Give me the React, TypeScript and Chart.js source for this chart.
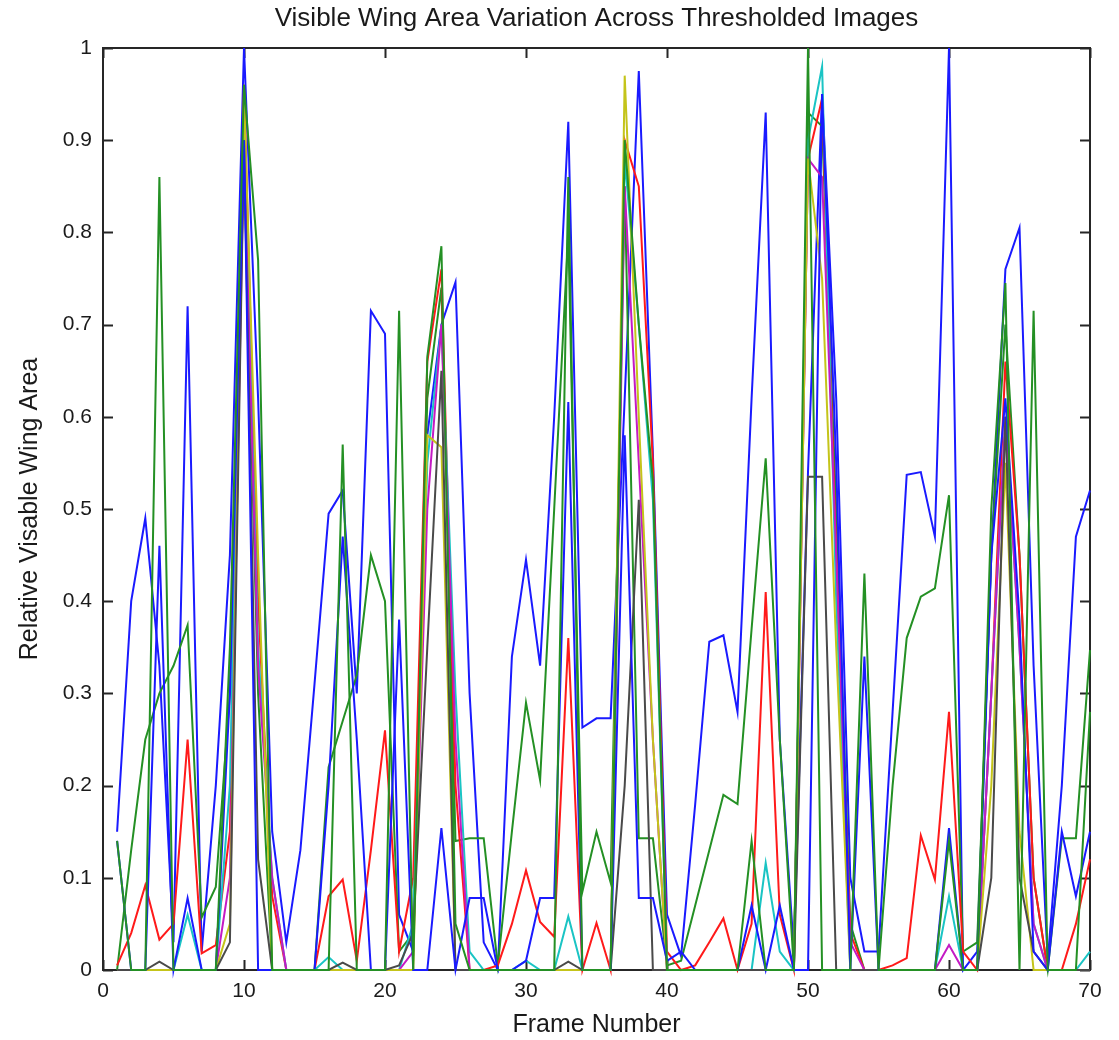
import React, { useEffect, useRef } from "react";
import { Chart, registerables } from "chart.js";

Chart.register(...registerables);

const titleText = "Visible Wing Area Variation Across Thresholded Images";
const xTitle = "Frame Number";
const yTitle = "Relative Visable Wing Area";

const frames = [
  1, 2, 3, 4, 5, 6, 7, 8, 9, 10, 11, 12, 13, 14, 15, 16, 17, 18, 19, 20,
  21, 22, 23, 24, 25, 26, 27, 28, 29, 30, 31, 32, 33, 34, 35, 36, 37, 38, 39, 40,
  41, 42, 43, 44, 45, 46, 47, 48, 49, 50, 51, 52, 53, 54, 55, 56, 57, 58, 59, 60,
  61, 62, 63, 64, 65, 66, 67, 68, 69, 70,
];

const xTickLabels = ["0", "10", "20", "30", "40", "50", "60", "70"];
const yTickLabels = ["0", "0.1", "0.2", "0.3", "0.4", "0.5", "0.6", "0.7", "0.8", "0.9", "1"];

const blueA = [
  0.15, 0.40, 0.49, 0.33, 0.03, 0.72, 0.02, 0.20, 0.45, 1.00,
  0.62, 0.15, 0.03, 0.13, 0.31, 0.495, 0.52, 0.30, 0.715, 0.69,
  0.06, 0.02, 0.58, 0.70, 0.746, 0.30, 0.03, 0.00, 0.34, 0.445,
  0.33, 0.60, 0.92, 0.263, 0.273, 0.273, 0.62, 0.975, 0.56, 0.06,
  0.015, 0.18, 0.356, 0.363, 0.28, 0.62, 0.93, 0.25, 0.02, 0.54,
  0.95, 0.62, 0.10, 0.02, 0.02, 0.28, 0.537, 0.54, 0.47, 1.00,
  0.00, 0.02, 0.45, 0.76, 0.805, 0.33, 0.01, 0.20, 0.47, 0.52,
];

const greenA = [
  0.00, 0.13, 0.25, 0.30, 0.33, 0.374, 0.057, 0.09, 0.30, 0.88,
  0.30, 0.00, 0.00, 0.00, 0.00, 0.22, 0.27, 0.32, 0.45, 0.40,
  0.02, 0.04, 0.62, 0.74, 0.14, 0.143, 0.143, 0.005, 0.15, 0.29,
  0.206, 0.50, 0.80, 0.085, 0.15, 0.095, 0.85, 0.143, 0.143, 0.005,
  0.01, 0.07, 0.13, 0.19, 0.18, 0.37, 0.555, 0.25, 0.00, 0.93,
  0.915, 0.50, 0.05, 0.00, 0.00, 0.20, 0.36, 0.405, 0.414, 0.515,
  0.02, 0.03, 0.45, 0.70, 0.45, 0.10, 0.00, 0.143, 0.143, 0.347,
];

const red = [
  0.005, 0.04, 0.092, 0.033, 0.05, 0.25, 0.018, 0.027, 0.15, 0.96,
  0.40, 0.08, 0.00, 0.00, 0.00, 0.08, 0.098, 0.01, 0.13, 0.26,
  0.02, 0.10, 0.66, 0.76, 0.20, 0.00, 0.00, 0.005, 0.05, 0.108,
  0.052, 0.036, 0.36, 0.00, 0.051, 0.00, 0.90, 0.85, 0.55, 0.02,
  0.00, 0.005, 0.03, 0.056, 0.00, 0.05, 0.41, 0.06, 0.00, 0.88,
  0.945, 0.45, 0.04, 0.00, 0.00, 0.005, 0.013, 0.146, 0.098, 0.28,
  0.02, 0.00, 0.30, 0.66, 0.45, 0.10, 0.00, 0.00, 0.05, 0.12,
];

const cyan = [
  0.00, 0.00, 0.00, 0.00, 0.00, 0.06, 0.00, 0.00, 0.20, 0.93,
  0.35, 0.10, 0.00, 0.00, 0.00, 0.014, 0.00, 0.00, 0.00, 0.00,
  0.00, 0.05, 0.55, 0.70, 0.30, 0.02, 0.00, 0.00, 0.00, 0.01,
  0.00, 0.00, 0.058, 0.00, 0.00, 0.00, 0.88, 0.70, 0.51, 0.00,
  0.00, 0.00, 0.00, 0.00, 0.00, 0.00, 0.116, 0.02, 0.00, 0.90,
  0.98, 0.40, 0.00, 0.00, 0.00, 0.00, 0.00, 0.00, 0.00, 0.08,
  0.00, 0.00, 0.30, 0.60, 0.35, 0.05, 0.00, 0.00, 0.00, 0.02,
];

const magenta = [
  0.00, 0.00, 0.00, 0.00, 0.00, 0.00, 0.00, 0.00, 0.10, 0.90,
  0.33, 0.10, 0.00, 0.00, 0.00, 0.00, 0.00, 0.00, 0.00, 0.00,
  0.00, 0.02, 0.50, 0.70, 0.25, 0.00, 0.00, 0.00, 0.00, 0.00,
  0.00, 0.00, 0.00, 0.00, 0.00, 0.00, 0.85, 0.55, 0.25, 0.00,
  0.00, 0.00, 0.00, 0.00, 0.00, 0.00, 0.00, 0.00, 0.00, 0.88,
  0.86, 0.45, 0.03, 0.00, 0.00, 0.00, 0.00, 0.00, 0.00, 0.027,
  0.00, 0.00, 0.30, 0.60, 0.35, 0.05, 0.00, 0.00, 0.00, 0.00,
];

const yellow = [
  0.00, 0.00, 0.00, 0.00, 0.00, 0.00, 0.00, 0.00, 0.05, 0.95,
  0.45, 0.00, 0.00, 0.00, 0.00, 0.00, 0.00, 0.00, 0.00, 0.00,
  0.00, 0.00, 0.58, 0.567, 0.00, 0.00, 0.00, 0.00, 0.00, 0.00,
  0.00, 0.00, 0.00, 0.00, 0.00, 0.00, 0.97, 0.60, 0.25, 0.00,
  0.00, 0.00, 0.00, 0.00, 0.00, 0.00, 0.00, 0.00, 0.00, 0.88,
  0.75, 0.35, 0.00, 0.00, 0.00, 0.00, 0.00, 0.00, 0.00, 0.00,
  0.00, 0.00, 0.20, 0.55, 0.15, 0.00, 0.00, 0.00, 0.00, 0.00,
];

const black = [
  0.00, 0.00, 0.00, 0.009, 0.00, 0.00, 0.00, 0.00, 0.03, 0.90,
  0.12, 0.00, 0.00, 0.00, 0.00, 0.00, 0.008, 0.00, 0.00, 0.00,
  0.005, 0.04, 0.35, 0.65, 0.00, 0.00, 0.00, 0.00, 0.00, 0.00,
  0.00, 0.00, 0.009, 0.00, 0.00, 0.00, 0.20, 0.51, 0.00, 0.00,
  0.00, 0.00, 0.00, 0.00, 0.00, 0.00, 0.00, 0.00, 0.00, 0.535,
  0.535, 0.00, 0.00, 0.00, 0.00, 0.00, 0.00, 0.00, 0.00, 0.00,
  0.00, 0.00, 0.10, 0.60, 0.10, 0.02, 0.00, 0.00, 0.00, 0.00,
];

const blueB = [
  0.14, 0.00, 0.00, 0.46, 0.00, 0.078, 0.00, 0.00, 0.30, 0.90,
  0.00, 0.00, 0.00, 0.00, 0.00, 0.20, 0.47, 0.25, 0.00, 0.00,
  0.38, 0.00, 0.00, 0.154, 0.00, 0.078, 0.078, 0.00, 0.00, 0.01,
  0.078, 0.078, 0.616, 0.00, 0.00, 0.00, 0.58, 0.078, 0.078, 0.01,
  0.02, 0.00, 0.00, 0.00, 0.00, 0.07, 0.00, 0.07, 0.00, 0.00,
  0.95, 0.55, 0.00, 0.34, 0.00, 0.00, 0.00, 0.00, 0.00, 0.154,
  0.00, 0.00, 0.45, 0.62, 0.38, 0.02, 0.00, 0.15, 0.08, 0.15,
];

const greenB = [
  0.14, 0.00, 0.00, 0.86, 0.00, 0.00, 0.00, 0.00, 0.35, 0.96,
  0.77, 0.00, 0.00, 0.00, 0.00, 0.00, 0.57, 0.00, 0.00, 0.00,
  0.715, 0.00, 0.665, 0.785, 0.05, 0.00, 0.00, 0.00, 0.00, 0.00,
  0.00, 0.00, 0.86, 0.00, 0.00, 0.00, 0.90, 0.70, 0.53, 0.00,
  0.00, 0.00, 0.00, 0.00, 0.00, 0.14, 0.00, 0.00, 0.00, 1.00,
  0.00, 0.00, 0.00, 0.43, 0.00, 0.00, 0.00, 0.00, 0.00, 0.14,
  0.00, 0.00, 0.50, 0.745, 0.00, 0.715, 0.00, 0.00, 0.00, 0.28,
];

const seriesValues = [blueA, greenA, red, cyan, magenta, yellow, black, blueB, greenB];
const seriesColors = [
  "#1a1aff", "#249024", "#ff1a1a", "#1ac4c4", "#c41ac4", "#c4c41a", "#4a4a4a", "#1a1aff", "#249024",
];

const FONT = "'Liberation Sans', Arial, sans-serif";

export default function App() {
  const ref = useRef<HTMLCanvasElement | null>(null);

  useEffect(() => {
    document.body.style.margin = "0";
    const canvas = ref.current;
    if (!canvas) return;

    const framePlugin = {
      id: "matlabFrame",
      beforeDatasetsDraw(chart: any) {
        const { ctx, chartArea } = chart;
        const { left, right, top, bottom } = chartArea;
        const xs = chart.scales.x;
        const ys = chart.scales.y;
        ctx.save();
        ctx.strokeStyle = "#262626";
        ctx.lineWidth = 2;
        ctx.strokeRect(left, top, right - left, bottom - top);
        const tl = 10;
        ctx.beginPath();
        xs.ticks.forEach((t: any) => {
          const px = Math.round(xs.getPixelForValue(t.value)) + 0.5;
          ctx.moveTo(px, bottom);
          ctx.lineTo(px, bottom - tl);
          ctx.moveTo(px, top);
          ctx.lineTo(px, top + tl);
        });
        ys.ticks.forEach((t: any) => {
          const py = Math.round(ys.getPixelForValue(t.value)) + 0.5;
          ctx.moveTo(left, py);
          ctx.lineTo(left + tl, py);
          ctx.moveTo(right, py);
          ctx.lineTo(right - tl, py);
        });
        ctx.stroke();
        ctx.restore();
      },
      afterDraw(chart: any) {
        const { ctx, chartArea } = chart;
        const cx = (chartArea.left + chartArea.right) / 2;
        const cy = (chartArea.top + chartArea.bottom) / 2;
        ctx.save();
        ctx.fillStyle = "#1a1a1a";
        ctx.textAlign = "center";
        ctx.textBaseline = "middle";
        ctx.font = `26px ${FONT}`;
        ctx.fillText(titleText, cx, 19);
        ctx.font = `25px ${FONT}`;
        ctx.fillText(xTitle, cx, 1025);
        ctx.translate(30, cy);
        ctx.rotate(-Math.PI / 2);
        ctx.fillText(yTitle, 0, 0);
        ctx.restore();
      },
    };

    const chart = new Chart(canvas, {
      type: "line",
      data: {
        datasets: seriesValues.map((vals, i) => ({
          label: `series ${i + 1}`,
          data: frames.map((f, j) => ({ x: f, y: vals[j] })),
          borderColor: seriesColors[i],
          backgroundColor: seriesColors[i],
          borderWidth: 2,
          pointRadius: 0,
          tension: 0,
          fill: false,
          clip: false as any,
          order: seriesValues.length - i,
        })),
      },
      options: {
        responsive: false,
        animation: false,
        events: [],
        layout: { padding: { left: 0, right: 29, top: 48, bottom: 0 } },
        plugins: {
          legend: { display: false },
          tooltip: { enabled: false },
          title: { display: false },
        },
        scales: {
          x: {
            type: "linear",
            min: 0,
            max: 70,
            afterFit: (s: any) => {
              s.height = 70;
            },
            grid: { display: false, drawTicks: false },
            border: { display: false },
            ticks: {
              stepSize: 10,
              padding: 9,
              color: "#1a1a1a",
              font: { family: FONT, size: 21 },
              maxRotation: 0,
              callback: (_v: any, i: number) => xTickLabels[i],
            },
          },
          y: {
            type: "linear",
            min: 0,
            max: 1,
            afterFit: (s: any) => {
              s.width = 103;
            },
            grid: { display: false, drawTicks: false },
            border: { display: false },
            ticks: {
              stepSize: 0.1,
              padding: 11,
              color: "#1a1a1a",
              font: { family: FONT, size: 21 },
              callback: (_v: any, i: number) => yTickLabels[i],
            },
          },
        },
      },
      plugins: [framePlugin],
    });

    return () => chart.destroy();
  }, []);

  return (
    <div style={{ position: "absolute", left: 0, top: 0, width: 1119, height: 1040, background: "#fff" }}>
      <canvas ref={ref} width={1119} height={1040} style={{ width: 1119, height: 1040 }} />
    </div>
  );
}
